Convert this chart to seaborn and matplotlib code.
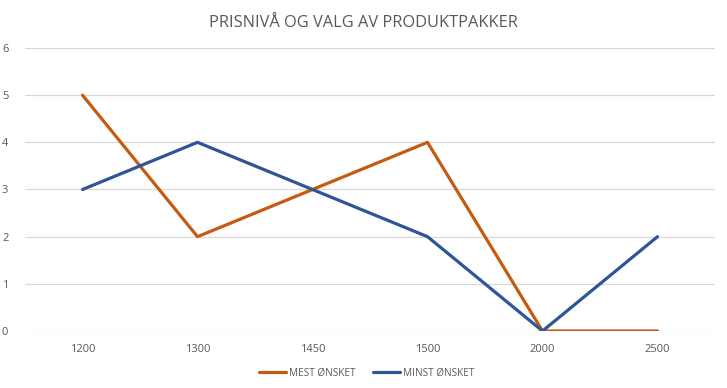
import pandas as pd
import matplotlib.pyplot as plt
import seaborn as sns

# data
prices = ["1200", "1300", "1450", "1500", "2000", "2500"]
mest_onsket = [5, 2, 3, 4, 0, 0]
minst_onsket = [3, 4, 3, 2, 0, 2]
series_names = ["MEST ØNSKET", "MINST ØNSKET"]
colors = ["#C55A11", "#2F5597"]

df = pd.DataFrame({
    "pris": prices * 2,
    "antall": mest_onsket + minst_onsket,
    "serie": [series_names[0]] * len(prices) + [series_names[1]] * len(prices),
})

sns.set_theme(style="white")
plt.rcParams["font.family"] = ["Open Sans", "DejaVu Sans"]
text_col = "#595959"

fig = plt.figure(figsize=(7.27, 3.88), dpi=100)
ax = fig.add_axes([0.0344, 0.1469, 0.9491, 0.7294])

sns.lineplot(data=df, x="pris", y="antall", hue="serie", palette=colors,
             linewidth=2.3, sort=False, ax=ax)

ax.set_xlim(-0.5, len(prices) - 0.5)
ax.set_ylim(0, 6)
ax.set_yticks(range(0, 7))
ax.grid(axis="y", color="#D9D9D9", linewidth=0.9)
ax.set_axisbelow(True)
for s in ax.spines.values():
    s.set_visible(False)
ax.tick_params(axis="both", length=0, labelsize=8, colors=text_col)
ax.tick_params(axis="x", pad=9)
ax.tick_params(axis="y", pad=12)
ax.set_xlabel("")
ax.set_ylabel("")

fig.suptitle("PRISNIVÅ OG VALG AV PRODUKTPAKKER", y=0.962, fontsize=11.8,
             color=text_col)

leg = ax.legend(loc="lower center", bbox_to_anchor=(0.495, -0.2), ncol=2,
                frameon=False, fontsize=7.2, handlelength=2.7,
                columnspacing=1.7, handletextpad=0.3)
for t in leg.get_texts():
    t.set_color(text_col)

fig.savefig("out.png", dpi=100)
